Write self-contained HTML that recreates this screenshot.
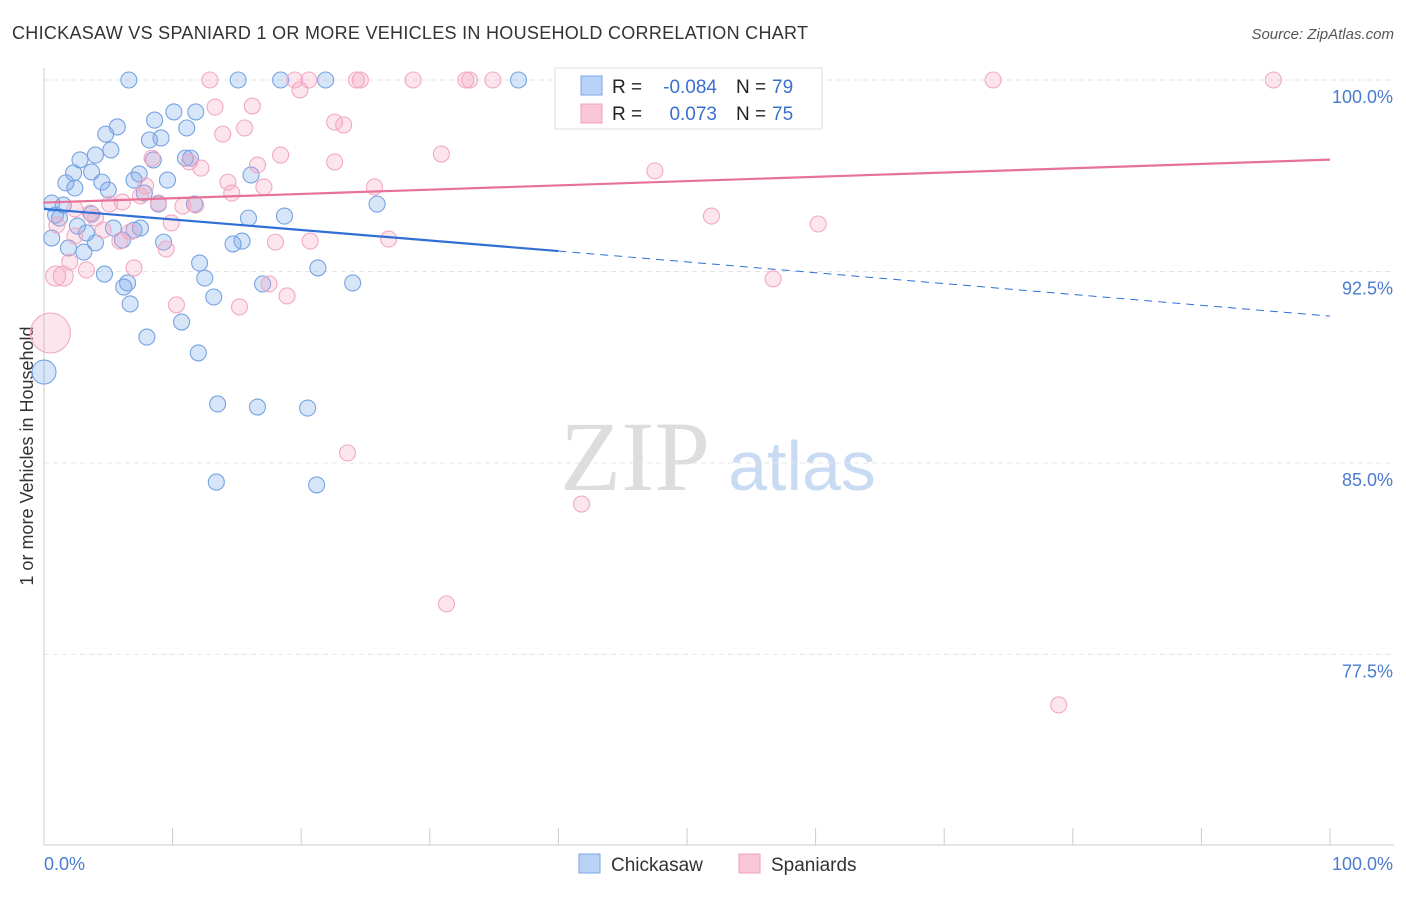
<!DOCTYPE html>
<html><head><meta charset="utf-8"><style>
body{margin:0;background:#fff;font-family:"Liberation Sans",sans-serif;}
svg text{font-family:"Liberation Sans",sans-serif;}
svg text.serif{font-family:"Liberation Serif",serif;}
</style></head><body>
<svg id="c" width="1406" height="892" xmlns="http://www.w3.org/2000/svg">
<text x="12" y="39" font-size="18" fill="#333" textLength="796">CHICKASAW VS SPANIARD 1 OR MORE VEHICLES IN HOUSEHOLD CORRELATION CHART</text>
<text x="1394" y="39" font-size="15" fill="#555" font-style="italic" text-anchor="end">Source: ZipAtlas.com</text>
<text transform="translate(33,456) rotate(-90)" font-size="18" fill="#333" text-anchor="middle">1 or more Vehicles in Household</text>
<g><text class="serif" x="635" y="490" font-size="100" fill="#ddd" text-anchor="middle">ZIP</text><text x="802" y="490" font-size="70" fill="#c9dbf3" text-anchor="middle">atlas</text></g>
<g id="grid"></g><g id="axes"></g><g id="pts"></g><g id="lines"></g>
<g>
<rect x="555" y="68" width="267" height="61" fill="#fff" stroke="#ddd"/>
<rect x="581" y="76" width="21" height="19" fill="#b9d3f6" stroke="#7aa6e6"/>
<rect x="581" y="104" width="21" height="19" fill="#f9c6d6" stroke="#f0a0bc"/>
<text x="612" y="93" font-size="19" fill="#222">R = </text><text x="717" y="93" font-size="19" fill="#3a6fd0" text-anchor="end">-0.084</text>
<text x="736" y="93" font-size="19" fill="#222">N = </text><text x="772" y="93" font-size="19" fill="#3a6fd0">79</text>
<text x="612" y="120" font-size="19" fill="#222">R = </text><text x="717" y="120" font-size="19" fill="#3a6fd0" text-anchor="end">0.073</text>
<text x="736" y="120" font-size="19" fill="#222">N = </text><text x="772" y="120" font-size="19" fill="#3a6fd0">75</text>
</g>
<g>
<rect x="579" y="854" width="21" height="19" fill="#b9d3f6" stroke="#7aa6e6"/>
<text x="611" y="871" font-size="19" fill="#333">Chickasaw</text>
<rect x="739" y="854" width="21" height="19" fill="#f9c6d6" stroke="#f0a0bc"/>
<text x="771" y="871" font-size="19" fill="#333">Spaniards</text>
</g>
</svg>
<script>
const yTicks=[100,92.5,85,77.5];
const yTickLabels=["100.0%","92.5%","85.0%","77.5%"];
const xLabels=["0.0%","100.0%"];
const blueX=[6.6,15.1,18.4,21.9,36.9,10.1,11.8,8.6,5.7,11.1,4.8,8.2,9.1,5.2,4.0,2.8,11.0,11.4,8.5,2.3,3.7,7.4,9.6,1.7,4.5,7.0,2.4,5.0,16.1,7.8,8.9,0.6,1.5,11.7,25.9,0.9,1.2,3.7,15.9,18.7,2.6,5.4,7.5,7.0,3.3,0.6,9.3,6.1,1.9,4.0,14.7,15.4,3.1,12.1,21.3,4.7,12.5,6.5,6.2,17.0,24.0,13.2,6.7,10.7,8.0,12.0,0,13.5,16.6,20.5,13.4,21.2];
const blueY=[100,100,100,100,100,98.75,98.75,98.43,98.16,98.12,97.88,97.65,97.73,97.26,97.06,96.87,96.94,96.94,96.87,96.36,96.40,96.32,96.08,95.97,96.0,96.08,95.77,95.69,96.28,95.57,95.14,95.18,95.10,95.14,95.14,94.71,94.59,94.75,94.59,94.67,94.28,94.20,94.20,94.12,94.01,93.81,93.65,93.73,93.42,93.62,93.58,93.69,93.26,92.83,92.64,92.40,92.24,92.05,91.89,92.01,92.05,91.50,91.23,90.52,89.93,89.31,88.56,87.31,87.19,87.15,84.25,84.14];
const pinkX=[12.9,19.5,20.6,24.3,24.6,28.7,32.8,33.1,34.9,40.7,44.6,49.7,58.6,73.8,95.6,19.9,13.3,16.2,22.6,23.3,13.9,15.6,30.9,18.4,22.6,8.4,11.3,12.2,16.6,47.5,14.3,25.7,17.1,7.9,14.6,7.5,8.9,11.8,6.1,5.1,10.8,2.4,3.6,4.0,51.9,60.2,9.9,1.0,4.6,6.7,2.4,5.9,20.7,18.0,26.8,9.5,2.0,7.0,3.3,0.9,1.5,56.7,17.5,18.9,10.3,15.2,0.5,23.6,41.8,31.3,78.9];
const pinkY=[100,100,100,100,100,100,100,100,100,100,100,100,100,100,100,99.61,98.94,98.98,98.35,98.24,97.88,98.12,97.10,97.06,96.79,96.94,96.79,96.55,96.67,96.44,96.0,95.81,95.81,95.85,95.57,95.46,95.18,95.10,95.22,95.14,95.06,94.95,94.79,94.59,94.67,94.36,94.40,94.32,94.12,94.05,93.89,93.69,93.69,93.65,93.77,93.38,92.87,92.64,92.56,92.32,92.32,92.21,92.01,91.54,91.19,91.11,90.09,85.39,83.39,79.48,75.52];
const blueTrend=[94.95,93.30,90.75];
const pinkTrend=[95.20,96.88];
const X=v=>44+v*12.86, Y=v=>80+(100-v)*25.53;
const NS="http://www.w3.org/2000/svg";
function mk(parent,tag,attrs){const e=document.createElementNS(NS,tag);for(const k in attrs)e.setAttribute(k,attrs[k]);document.getElementById(parent).appendChild(e);return e;}
yTicks.forEach((t,i)=>{
 const g=mk('grid','line',{x1:44,x2:1394,y1:Y(t),y2:Y(t),stroke:'#e4e4e4','stroke-dasharray':'5,4'});
 
 
 const l=mk('grid','text',{x:1393,y:Y(t)+23,'font-size':18,fill:'#4a7bd0','text-anchor':'end'});l.textContent=yTickLabels[i];
 
 
});
const ax=mk('axes','line',{x1:44,x2:44,y1:68,y2:845,stroke:'#ccc'});


const bx=mk('axes','line',{x1:44,x2:1394,y1:845,y2:845,stroke:'#ccc'});


for(let i=0;i<=10;i++){const t=mk('axes','line',{x1:X(i*10),x2:X(i*10),y1:828,y2:845,stroke:'#ccc'});
 
 }
[[0,'start',44],[100,'end',1393]].forEach((d,i)=>{const t=mk('axes','text',{x:d[2],y:870,'font-size':18,fill:'#4a7bd0','text-anchor':d[1]});t.textContent=xLabels[i];
 
 });
blueX.forEach((x,i)=>{const r=(x===0)?12:8;const c=mk('pts','circle',{cx:X(x),cy:Y(blueY[i]),r:r,fill:'rgba(110,160,235,0.28)',stroke:'#76a3e4','stroke-width':1.1});
 
 });
pinkX.forEach((x,i)=>{const r=(pinkY[i]===90.09)?20:(x<2&&pinkY[i]<93?10:8);const c=mk('pts','circle',{cx:X(x),cy:Y(pinkY[i]),r:r,fill:'rgba(245,160,190,0.28)',stroke:'#f2a9c2','stroke-width':1.1});
 
 });
const b1=mk('lines','line',{x1:X(0),y1:Y(blueTrend[0]),x2:X(40),y2:Y(blueTrend[1]),stroke:'#2f6fd6','stroke-width':2.2});


const b2=mk('lines','line',{x1:X(40),y1:Y(blueTrend[1]),x2:X(100),y2:Y(blueTrend[2]),stroke:'#2f6fd6','stroke-width':1,'stroke-dasharray':'8,6'});


const p1=mk('lines','line',{x1:X(0),y1:Y(pinkTrend[0]),x2:X(100),y2:Y(pinkTrend[1]),stroke:'#e8719a','stroke-width':2.2});


</script>
</body></html>
